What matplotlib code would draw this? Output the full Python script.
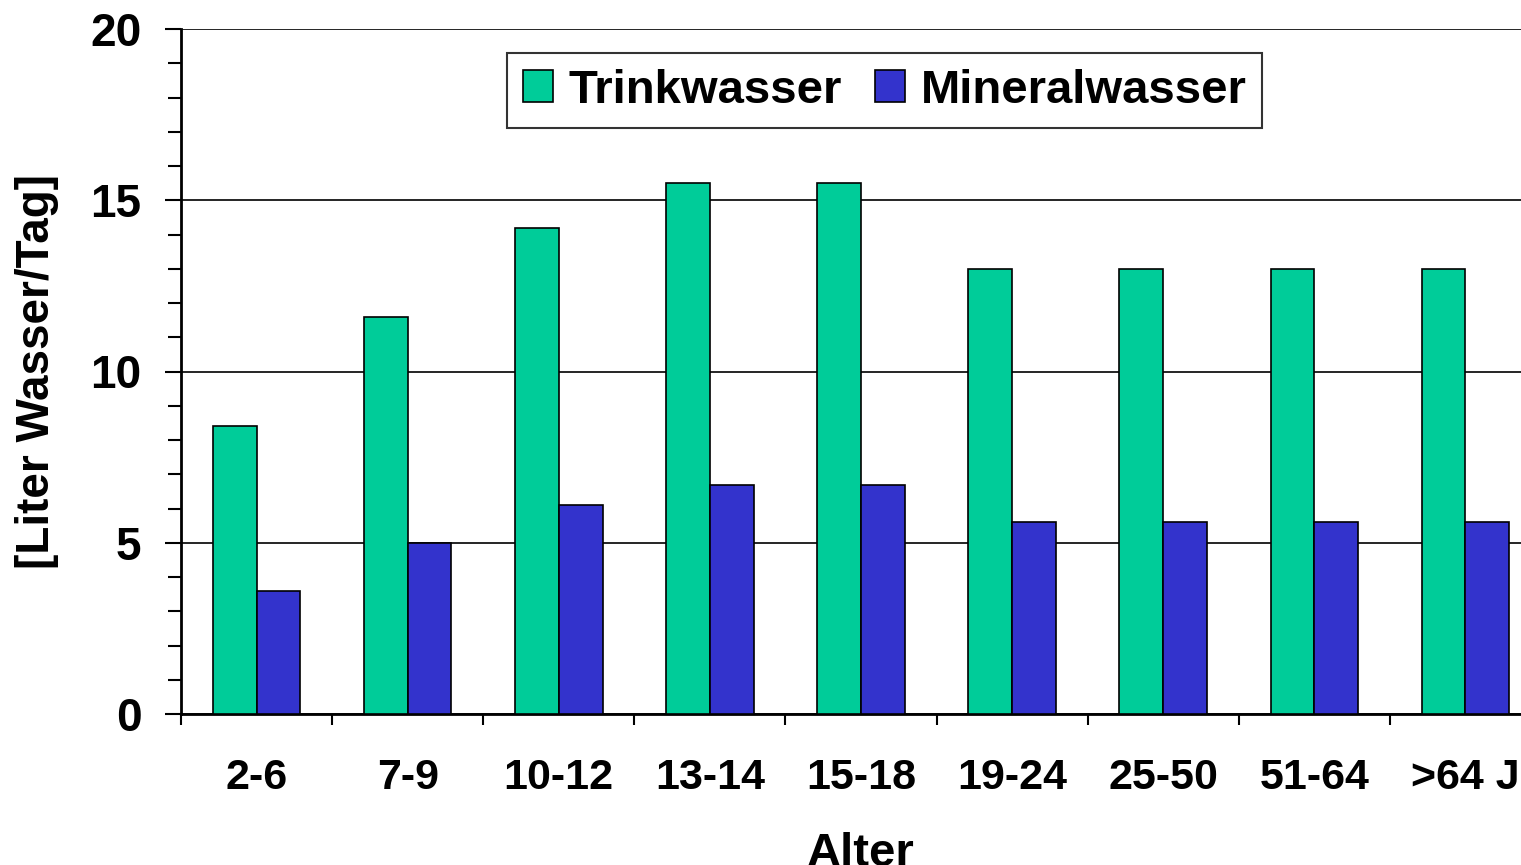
import numpy as np
import matplotlib
matplotlib.use('Agg')
from matplotlib import pyplot as plt
from matplotlib.ticker import MultipleLocator

plt.rcParams['font.family'] = ['Liberation Sans', 'DejaVu Sans']
plt.rcParams['font.weight'] = 'bold'

alter = ['2-6', '7-9', '10-12', '13-14', '15-18', '19-24', '25-50', '51-64', '>64 J']
trinkwasser = [8.4, 11.6, 14.2, 15.5, 15.5, 13.0, 13.0, 13.0, 13.0]
mineralwasser = [3.6, 5.0, 6.1, 6.7, 6.7, 5.6, 5.6, 5.6, 5.6]

fig = plt.figure(figsize=(15.21, 8.65), dpi=100)
# axes run past the right edge of the picture, like the original
ax = fig.add_axes([181/1521, 1-714/865, 1360/1521, 685/865])

x = np.arange(len(alter)) + 0.5
w = 0.29
ax.bar(x - w/2, trinkwasser, w, color='#00CC99', edgecolor='black', linewidth=1.2,
       label='Trinkwasser', zorder=3)
ax.bar(x + w/2, mineralwasser, w, color='#3333CC', edgecolor='black', linewidth=1.2,
       label='Mineralwasser', zorder=3)

ax.set_xlim(0, len(alter))
ax.set_ylim(0, 20)
ax.yaxis.set_major_locator(MultipleLocator(5))
ax.yaxis.set_minor_locator(MultipleLocator(1))
ax.grid(axis='y', which='major', color='black', linewidth=1.2, zorder=0)
ax.set_xticks(x)
ax.set_xticklabels(alter)
ax.set_xticks(np.arange(len(alter) + 1), minor=True)
ax.tick_params(axis='x', which='major', length=0, pad=32, labelsize=31)
ax.tick_params(axis='x', which='minor', length=8, width=1.5, direction='out')
ax.tick_params(axis='y', which='major', length=11.5, width=1.5, pad=17, labelsize=33)
ax.tick_params(axis='y', which='minor', length=9.5, width=1.5)

for s in ['top', 'right']:
    ax.spines[s].set_visible(False)
for s in ['left', 'bottom']:
    ax.spines[s].set_linewidth(2)

ax.set_ylabel('[Liter Wasser/Tag]', fontsize=33, fontweight='bold')
ax.yaxis.set_label_coords(-0.09, 0.5)
fig.text(861/1521, 1-866/865, 'Alter', ha='center', va='baseline', fontsize=34, fontweight='bold')

leg = ax.legend(loc='upper center', bbox_to_anchor=(884.5/1521, 1-53/865),
                bbox_transform=fig.transFigure, ncol=2, fontsize=34, frameon=True,
                fancybox=False, handlelength=0.65, handleheight=0.65,
                handletextpad=0.32, columnspacing=0.7, borderpad=0.33,
                borderaxespad=0)
leg.get_frame().set_edgecolor('black')
leg.get_frame().set_linewidth(1.5)
for t in leg.get_texts():
    t.set_fontweight('bold')

fig.savefig('out.png', dpi=100)
